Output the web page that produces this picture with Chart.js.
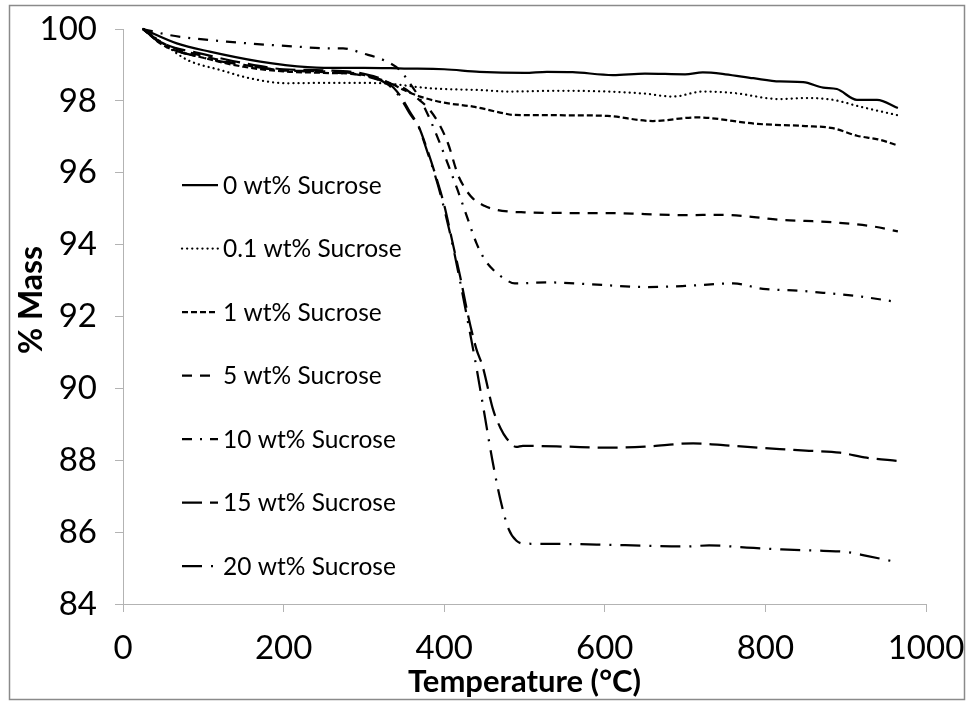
<!DOCTYPE html>
<html>
<head>
<meta charset="utf-8">
<script src="https://cdn.jsdelivr.net/npm/chart.js@4.4.1/dist/chart.umd.min.js"></script>
<style>
  html, body { margin: 0; padding: 0; background: #ffffff; }
  #wrap { position: relative; width: 969px; height: 703px; }
</style>
</head>
<body>
<div id="wrap"><canvas id="c" width="969" height="703"></canvas></div>
<script>
// ---- Data ----
const seriesLabels = ["0 wt% Sucrose", "0.1 wt% Sucrose", "1 wt% Sucrose", "5 wt% Sucrose", "10 wt% Sucrose", "15 wt% Sucrose", "20 wt% Sucrose"];

const t0  = [25, 67, 108, 171, 200, 250, 300, 350, 400, 444, 500, 528, 560, 610, 650, 700, 722, 750, 785, 818, 847, 872, 889, 914, 939, 965];
const m0  = [100, 99.6, 99.37, 99.09, 99.0, 98.92, 98.92, 98.9, 98.88, 98.81, 98.78, 98.81, 98.8, 98.72, 98.76, 98.74, 98.79, 98.74, 98.63, 98.54, 98.52, 98.37, 98.33, 98.03, 98.03, 97.8];

const t01 = [25, 50, 80, 121, 158, 204, 250, 300, 330, 382, 444, 482, 540, 603, 650, 685, 722, 760, 818, 850, 884, 918, 965];
const m01 = [100, 99.6, 99.14, 98.86, 98.63, 98.49, 98.5, 98.5, 98.48, 98.35, 98.3, 98.26, 98.28, 98.26, 98.2, 98.12, 98.26, 98.22, 98.05, 98.08, 98.03, 97.84, 97.6];

const t1  = [25, 50, 100, 150, 200, 250, 300, 333, 350, 370, 400, 436, 473, 486, 550, 603, 660, 714, 790, 850, 884, 914, 940, 965];
const m1  = [100, 99.55, 99.2, 98.95, 98.82, 98.78, 98.72, 98.49, 98.3, 98.12, 97.95, 97.84, 97.66, 97.61, 97.6, 97.58, 97.44, 97.54, 97.36, 97.3, 97.24, 97.03, 96.93, 96.76];

const t5  = [25, 50, 100, 150, 200, 250, 300, 330, 350, 365, 382, 395, 405, 417, 425, 435, 450, 465, 480, 500, 550, 603, 650, 700, 745, 780, 818, 850, 884, 933, 965];
const m5  = [100, 99.6, 99.25, 99.0, 98.85, 98.8, 98.7, 98.5, 98.35, 98.1, 97.75, 97.3, 96.8, 95.95, 95.6, 95.3, 95.08, 94.97, 94.92, 94.9, 94.88, 94.88, 94.85, 94.82, 94.83, 94.78, 94.69, 94.66, 94.62, 94.51, 94.37];

const t10 = [25, 58, 129, 216, 258, 274, 299, 329, 345, 357, 370, 382, 395, 407, 417, 428, 440, 450, 461, 475, 488, 527, 580, 652, 700, 760, 797, 840, 872, 920, 965];
const m10 = [100, 99.83, 99.65, 99.51, 99.46, 99.46, 99.32, 99.09, 98.85, 98.5, 98.05, 97.5, 96.8, 96.1, 95.5, 94.8, 94.05, 93.6, 93.3, 93.05, 92.92, 92.95, 92.9, 92.82, 92.85, 92.92, 92.77, 92.72, 92.66, 92.55, 92.4];

const t15 = [25, 50, 100, 150, 200, 250, 300, 330, 345, 357, 368, 378, 391, 400, 411, 420, 430, 440, 448, 461, 470, 478, 490, 498, 550, 600, 650, 710, 760, 818, 850, 893, 926, 965];
const m15 = [100, 99.6, 99.3, 99.05, 98.88, 98.85, 98.75, 98.5, 98.15, 97.7, 97.3, 96.7, 95.8, 95.1, 94.0, 93.1, 92.0, 91.1, 90.6, 89.4, 88.9, 88.6, 88.37, 88.4, 88.38, 88.35, 88.38, 88.47, 88.4, 88.31, 88.27, 88.21, 88.07, 87.98];

const t20 = [25, 50, 100, 150, 200, 250, 300, 330, 345, 357, 368, 378, 391, 400, 411, 420, 430, 440, 450, 460, 470, 480, 490, 500, 550, 600, 650, 700, 730, 777, 820, 872, 900, 926, 965];
const m20 = [100, 99.55, 99.2, 99.0, 98.85, 98.82, 98.72, 98.45, 98.1, 97.65, 97.28, 96.65, 95.75, 95.0, 93.94, 92.95, 91.8, 90.6, 89.3, 88.0, 86.9, 86.1, 85.76, 85.68, 85.67, 85.65, 85.62, 85.6, 85.63, 85.57, 85.52, 85.48, 85.45, 85.34, 85.16];

const xTicks = [0, 200, 400, 600, 800, 1000];
const yTicks = [84, 86, 88, 90, 92, 94, 96, 98, 100];
const xTitle = 'Temperature (°C)';
const yTitle = '% Mass';

// ---- Styles ----
const dashes = [[], [0.1, 5], [6, 3], [10, 8], [10, 8, 2, 8], [20, 8], [20, 9, 2, 9]];
const caps   = ['butt', 'round', 'butt', 'butt', 'butt', 'butt', 'butt'];
const tempSets = [t0, t01, t1, t5, t10, t15, t20];
const massSets = [m0, m01, m1, m5, m10, m15, m20];

const pts = (ts, ms) => ts.map((t, i) => ({ x: t, y: ms[i] }));

const datasets = seriesLabels.map((lab, i) => ({
  label: lab,
  data: pts(tempSets[i], massSets[i]),
  borderColor: '#000000',
  backgroundColor: '#000000',
  borderWidth: 2.25,
  borderDash: dashes[i],
  borderCapStyle: caps[i],
  pointRadius: 0,
  cubicInterpolationMode: 'monotone',
  fill: false,
  clip: 6
}));

const FONT = 'Lato, "Open Sans", sans-serif';

const legendPlugin = {
  id: 'insideLegend',
  afterDatasetsDraw(chart) {
    const ctx = chart.ctx;
    const x0 = 182, len = 36, textX = 223;
    const y0 = 185, step = 63.5;
    ctx.save();
    chart.data.datasets.forEach((ds, i) => {
      const y = y0 + i * step;
      ctx.beginPath();
      ctx.setLineDash(ds.borderDash);
      ctx.lineCap = ds.borderCapStyle;
      ctx.lineWidth = ds.borderWidth;
      ctx.strokeStyle = ds.borderColor;
      ctx.moveTo(x0, y);
      ctx.lineTo(x0 + len, y);
      ctx.stroke();
      ctx.setLineDash([]);
      ctx.fillStyle = '#000000';
      ctx.font = '24.5px ' + FONT;
      ctx.textAlign = 'left';
      ctx.textBaseline = 'middle';
      ctx.fillText(ds.label, textX, y + 1);
    });
    // y axis title, placed as in the reference
    ctx.save();
    ctx.translate(32, 300);
    ctx.rotate(-Math.PI / 2);
    ctx.font = 'bold 32px ' + FONT;
    ctx.textAlign = 'center';
    ctx.textBaseline = 'middle';
    ctx.fillText(yTitle, 0, 0);
    ctx.restore();
    ctx.restore();
  }
};

const framePlugin = {
  id: 'frame',
  beforeDraw(chart) {
    const ctx = chart.ctx;
    ctx.save();
    ctx.fillStyle = '#ffffff';
    ctx.fillRect(0, 0, chart.width, chart.height);
    ctx.strokeStyle = '#8a8a8a';
    ctx.lineWidth = 1.5;
    ctx.strokeRect(9.5, 5.5, 955, 694);
    ctx.restore();
  }
};

new Chart(document.getElementById('c'), {
  type: 'line',
  data: { datasets },
  plugins: [framePlugin, legendPlugin],
  options: {
    responsive: false,
    animation: false,
    events: [],
    layout: { padding: { left: 10, right: 43, top: 29, bottom: 0 } },
    plugins: { legend: { display: false }, tooltip: { enabled: false }, title: { display: false } },
    scales: {
      x: {
        type: 'linear',
        min: 0, max: 1000,
        afterFit: s => { s.height = 99; s.paddingLeft = 0; s.paddingRight = 0; },
        afterBuildTicks: s => { s.ticks = xTicks.map(v => ({ value: v })); },
        border: { display: true, color: '#b3b3b3', width: 1 },
        grid: { drawOnChartArea: false, drawTicks: true, tickLength: 8, color: '#b3b3b3' },
        ticks: { color: '#000000', font: { family: FONT, size: 33 }, padding: 17, maxRotation: 0, callback: v => String(v) },
        title: { display: true, text: xTitle, color: '#000000', font: { family: FONT, size: 31, weight: 'bold' }, padding: { top: 0, bottom: 2 } }
      },
      y: {
        type: 'linear',
        min: 84, max: 100,
        afterFit: s => { s.width = 113; s.paddingTop = 0; s.paddingBottom = 0; },
        afterBuildTicks: s => { s.ticks = yTicks.map(v => ({ value: v })); },
        border: { display: true, color: '#b3b3b3', width: 1 },
        grid: { drawOnChartArea: false, drawTicks: true, tickLength: 8, color: '#b3b3b3' },
        ticks: { color: '#000000', font: { family: FONT, size: 33 }, padding: 18, callback: v => String(v) },
        title: { display: false }
      }
    }
  }
});
</script>
</body>
</html>
